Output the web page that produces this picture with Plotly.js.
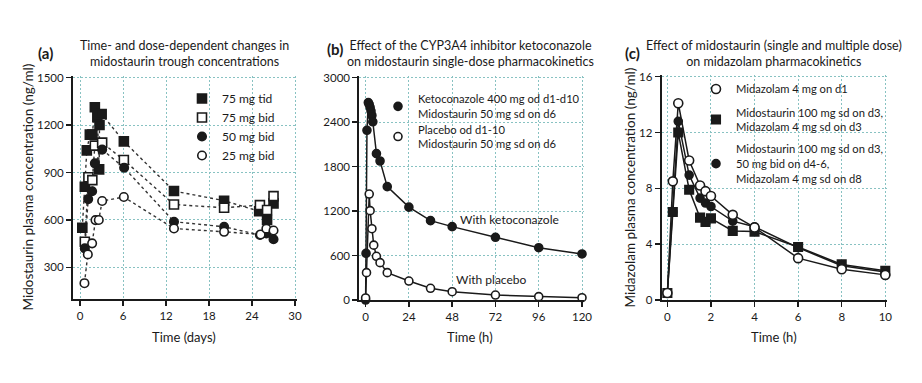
<!DOCTYPE html>
<html>
<head>
<meta charset="utf-8">
<script src="https://cdn.plot.ly/plotly-3.0.1.min.js"></script>
<style>html,body{margin:0;padding:0;background:#fff;}#chart{width:922px;height:383px;}</style>
</head>
<body>
<div id="chart"></div>
<script>
// ---------- Panel (a): midostaurin trough concentrations ----------
const aTidDays = [0.3, 0.65, 0.93, 1.35, 1.7, 2.05, 2.4, 2.65, 2.7, 3.0, 6.1, 13.1, 20.1, 25.0, 26.1, 27.0];
const aTidConc = [551, 810, 1040, 1140, 1140, 1313, 1250, 920, 1201, 1270, 1097, 783, 722, 655, 600, 705];
const aBid75Days = [0.65, 1.15, 1.7, 2.05, 3.07, 6.1, 13.1, 20.1, 25.1, 26.1, 27.0];
const aBid75Conc = [462, 870, 852, 1070, 1089, 979, 698, 677, 694, 663, 751];
const aBid50Days = [0.65, 1.12, 1.67, 2.05, 3.07, 6.14, 13.1, 20.1, 25.1, 26.0, 27.0];
const aBid50Conc = [420, 732, 782, 958, 1045, 930, 589, 557, 505, 515, 478];
const aBid25Days = [0.6, 1.07, 1.67, 2.14, 2.6, 3.07, 6.1, 13.1, 20.1, 25.2, 26.0, 27.0];
const aBid25Conc = [200, 382, 452, 599, 600, 720, 745, 546, 525, 508, 545, 533];
const aNames = ['75 mg tid', '75 mg bid', '50 mg bid', '25 mg bid'];

// ---------- Panel (b): ketoconazole effect ----------
const bKetoHours = [0, 0.25, 0.75, 1.5, 2, 2.5, 3, 3.5, 4, 6, 8, 12, 24, 36, 48, 72, 96, 120];
const bKetoConc = [0, 630, 2290, 2664, 2640, 2600, 2550, 2490, 2405, 1975, 1876, 1530, 1253, 1071, 990, 846, 706, 621];
const bPlaHours = [0, 0.5, 2, 2.5, 3.5, 4.5, 6, 8, 12, 24, 36, 48, 72, 96, 120];
const bPlaConc = [28, 369, 1430, 1206, 962, 740, 590, 504, 369, 256, 158, 112, 67, 45, 31];
const bNames = ['Ketoconazole 400 mg od d1-d10<br>Midostaurin 50 mg sd on d6',
                'Placebo od d1-10<br>Midostaurin 50 mg sd on d6'];
const bLabels = ['With ketoconazole', 'With placebo'];

// ---------- Panel (c): midazolam PK ----------
const cHours = [0, 0.25, 0.5, 1, 1.5, 1.75, 2, 3, 4, 6, 8, 10];
const cMdzD1 = [0.5, 8.5, 14.1, 10.0, 8.2, 7.8, 7.45, 6.1, 5.2, 3.0, 2.2, 1.8];
const cMidoSdD3 = [0.5, 6.3, 12.0, 7.9, 5.9, 5.6, 5.85, 4.95, 4.9, 3.8, 2.55, 2.1];
const cMidoMdD8 = [0.5, 6.3, 12.8, 8.95, 7.3, 6.95, 6.7, 5.65, 5.25, 3.75, 2.45, 2.0];
const cNames = ['Midazolam 4 mg on d1',
                'Midostaurin 100 mg sd on d3,<br>Midazolam 4 mg sd on d3',
                'Midostaurin 100 mg sd on d3,<br>50 mg bid on d4-6,<br>Midazolam 4 mg sd on d8'];

// ---------- Text ----------
const panelLetters = ['(a)', '(b)', '(c)'];
const panelTitles = ['Time- and dose-dependent changes in<br>midostaurin trough concentrations',
                     'Effect of the CYP3A4 inhibitor ketoconazole<br>on midostaurin single-dose pharmacokinetics',
                     'Effect of midostaurin (single and multiple dose)<br>on midazolam pharmacokinetics'];
const xTitles = ['Time (days)', 'Time (h)', 'Time (h)'];
const yTitles = ['Midostaurin plasma concentration (ng/ml)', '', 'Midazolam plasma concentration (ng/ml)'];

const FONT = 'Lato, "Open Sans", sans-serif';
const INK = '#1a1a1a';
const W = 922, H = 383;
const px = v => v / W;
const py = v => 1 - v / H;

function mk(symbol, filled, size) {
  return {symbol: symbol, size: size, color: filled ? INK : '#ffffff', line: {color: INK, width: 1.6}};
}

const lineTraces = [], markerTraces = [];
function addSeries(xs, ys, name, xa, ya, leg, lineStyle, marker) {
  lineTraces.push({x: xs, y: ys, type: 'scatter', mode: 'lines', xaxis: xa, yaxis: ya,
    showlegend: false, hoverinfo: 'skip', line: lineStyle, cliponaxis: false});
  markerTraces.push({x: xs, y: ys, type: 'scatter', mode: 'markers', name: name,
    xaxis: xa, yaxis: ya, legend: leg, marker: marker, cliponaxis: false});
}

const dotLine = {color: '#333', width: 1.4, dash: 'dot'};
const solid = {color: INK, width: 1.5};
// (a)
addSeries(aTidDays, aTidConc, aNames[0], 'x', 'y', 'legend', dotLine, mk('square', true, 9));
addSeries(aBid75Days, aBid75Conc, aNames[1], 'x', 'y', 'legend', dotLine, mk('square', false, 9));
addSeries(aBid50Days, aBid50Conc, aNames[2], 'x', 'y', 'legend', dotLine, mk('circle', true, 8.5));
addSeries(aBid25Days, aBid25Conc, aNames[3], 'x', 'y', 'legend', dotLine, mk('circle', false, 8.5));
// (b)
addSeries(bKetoHours, bKetoConc, bNames[0], 'x2', 'y2', 'legend2', solid, mk('circle', true, 8));
addSeries(bPlaHours, bPlaConc, bNames[1], 'x2', 'y2', 'legend3', solid, mk('circle', false, 8));
// (c): squares, filled circles, then open circles on top
addSeries(cHours, cMidoSdD3, cNames[1], 'x3', 'y3', 'legend5', solid, mk('square', true, 8.5));
addSeries(cHours, cMidoMdD8, cNames[2], 'x3', 'y3', 'legend6', solid, mk('circle', true, 8));
addSeries(cHours, cMdzD1, cNames[0], 'x3', 'y3', 'legend4', solid, mk('circle', false, 9));

const axBase = {
  showline: true, linecolor: INK, linewidth: 2, ticks: 'outside', ticklen: 5, tickwidth: 1.5, tickcolor: INK,
  showgrid: true, gridcolor: '#88c2c2', griddash: '2px,2px', gridwidth: 1, zeroline: false,
  tickfont: {family: FONT, size: 11.5, color: INK}, fixedrange: true
};
function ax(o) { return Object.assign({}, axBase, o); }

function leg(x, top, size) {
  return {x: px(x), y: py(top), xanchor: 'left', yanchor: 'top', bgcolor: 'rgba(0,0,0,0)', borderwidth: 0,
    font: {family: FONT, size: size, color: INK}, itemclick: false, itemdoubleclick: false};
}

const annotations = [];
const letterX = [45, 335, 632], letterY = [53, 49, 53];
const titleX = [184, 470, 774];
for (let i = 0; i < 3; i++) {
  annotations.push({xref: 'paper', yref: 'paper', x: px(letterX[i]), y: py(letterY[i]), text: '<b>' + panelLetters[i] + '</b>',
    showarrow: false, xanchor: 'center', yanchor: 'middle', font: {family: FONT, size: 15, color: INK}});
  annotations.push({xref: 'paper', yref: 'paper', x: px(titleX[i]), y: py(53.5), text: panelTitles[i],
    showarrow: false, xanchor: 'center', yanchor: 'middle', font: {family: FONT, size: 12.5, color: INK}});
}
const xtX = [184, 470, 774];
for (let i = 0; i < 3; i++) {
  annotations.push({xref: 'paper', yref: 'paper', x: px(xtX[i]), y: py(337), text: xTitles[i],
    showarrow: false, xanchor: 'center', yanchor: 'middle', font: {family: FONT, size: 13, color: INK}});
}
annotations.push({xref: 'paper', yref: 'paper', x: px(28), y: py(187.5), text: yTitles[0], textangle: -90,
  showarrow: false, xanchor: 'center', yanchor: 'middle', font: {family: FONT, size: 13.5, color: INK}});
annotations.push({xref: 'paper', yref: 'paper', x: px(630), y: py(187.5), text: yTitles[2], textangle: -90,
  showarrow: false, xanchor: 'center', yanchor: 'middle', font: {family: FONT, size: 13.5, color: INK}});
annotations.push({xref: 'x2', yref: 'y2', x: 79.6, y: 1080, text: bLabels[0], showarrow: false,
  xanchor: 'center', yanchor: 'middle', font: {family: FONT, size: 12, color: INK}});
annotations.push({xref: 'x2', yref: 'y2', x: 69.6, y: 279, text: bLabels[1], showarrow: false,
  xanchor: 'center', yanchor: 'middle', font: {family: FONT, size: 12, color: INK}});

// Ranges are padded by 2 px on the far ends (domains extended to match) so that
// the gridlines at the last tick (top / right edges) are kept by Plotly.
const layout = {
  width: W, height: H, margin: {l: 0, r: 0, t: 0, b: 0}, paper_bgcolor: '#fff', plot_bgcolor: '#fff',
  font: {family: FONT, color: INK}, showlegend: true,
  xaxis: ax({domain: [px(73), px(297)], range: [-1, 30.279], tick0: 0, dtick: 6, anchor: 'y'}),
  yaxis: ax({domain: [py(299), py(75.7)], range: [100, 1512.65], tick0: 0, dtick: 300, anchor: 'x'}),
  xaxis2: ax({domain: [px(359.3), px(584)], range: [-3.5, 121.11], tick0: 0, dtick: 24, anchor: 'y2'}),
  yaxis2: ax({domain: [py(300), py(75.7)], range: [0, 3027], tick0: 0, dtick: 600, anchor: 'x2'}),
  xaxis3: ax({domain: [px(661.7), px(887.3)], range: [-0.26, 10.092], tick0: 0, dtick: 2, anchor: 'y3'}),
  yaxis3: ax({domain: [py(300), py(74.7)], range: [0, 16.143], tick0: 0, dtick: 4, anchor: 'x3'}),
  legend: leg(182, 84, 12),
  legend2: leg(378, 85.3, 11.2),
  legend3: leg(378, 115.5, 11.2),
  legend4: leg(696, 74.5, 11.2),
  legend5: leg(696, 98.5, 11.2),
  legend6: leg(696, 135.3, 11.2),
  annotations: annotations
};

Plotly.newPlot('chart', lineTraces.concat(markerTraces), layout, {displayModeBar: false, staticPlot: true});
</script>
</body>
</html>
